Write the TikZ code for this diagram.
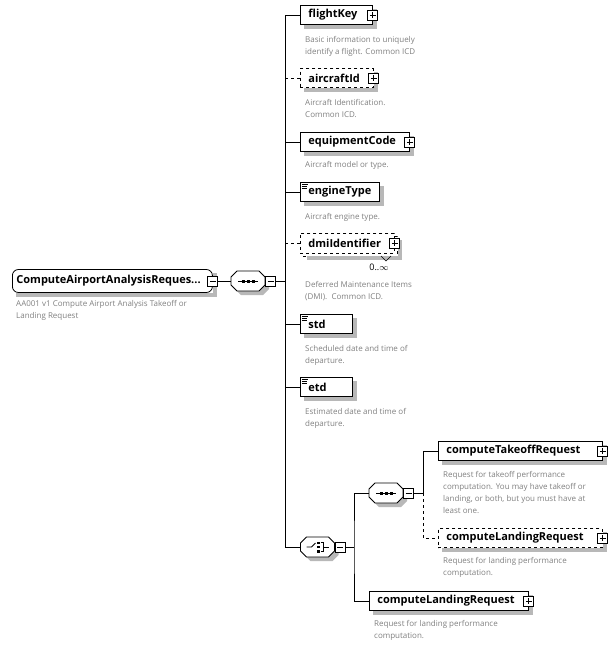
\documentclass[tikz,border=0pt]{standalone}
\usepackage{fontspec}
\setmainfont{Open Sans}

\begin{document}
\begin{tikzpicture}[
    x=1pt, y=-1pt,
    conn/.style={draw=black, line width=0.8pt},
    shadowfill/.style={fill=black!28, draw=none},
    elem/.style={rectangle, draw=black, line width=0.8pt, fill=white, anchor=west, minimum height=19pt, inner xsep=8pt, inner ysep=0pt, align=left, font=\bfseries\fontsize{11}{13}\selectfont},
    optelem/.style={elem, dashed},
    simple/.style={path picture={
        \draw[black, solid, line width=0.6pt] ([xshift=1.5pt,yshift=-2pt]path picture bounding box.north west) -- ++(6pt,0);
        \draw[black, solid, line width=0.6pt] ([xshift=1.5pt,yshift=-4pt]path picture bounding box.north west) -- ++(5pt,0);
        \draw[black, solid, line width=0.6pt] ([xshift=1.5pt,yshift=-6pt]path picture bounding box.north west) -- ++(5pt,0);}},
    desc/.style={anchor=north west, inner sep=0pt, align=left, text=black!50, font=\fontsize{8}{12}\selectfont},
    plusbox/.style={rectangle, draw=black, line width=0.7pt, fill=white, minimum size=10pt, inner sep=0pt, path picture={
        \draw[black, line width=0.7pt] ([xshift=2pt]path picture bounding box.west) -- ([xshift=-2pt]path picture bounding box.east);
        \draw[black, line width=0.7pt] ([yshift=-2pt]path picture bounding box.north) -- ([yshift=2pt]path picture bounding box.south);}},
    minusbox/.style={rectangle, draw=black, line width=0.7pt, fill=white, minimum size=10pt, inner sep=0pt, path picture={
        \draw[black, line width=0.7pt] ([xshift=2pt]path picture bounding box.west) -- ([xshift=-2pt]path picture bounding box.east);}},
    compositor/.style={rectangle, minimum width=34pt, minimum height=20pt, inner sep=0pt},
    octoline/.style={draw=black, line width=0.8pt, fill=white},
    seqsym/.style={path picture={
        \draw[black, line width=0.8pt] ([xshift=-10pt]path picture bounding box.center) -- ([xshift=10pt]path picture bounding box.center);
        \fill[black] ([xshift=-6.5pt,yshift=-1.5pt]path picture bounding box.center) rectangle ++(3pt,3pt);
        \fill[black] ([xshift=-1.5pt,yshift=-1.5pt]path picture bounding box.center) rectangle ++(3pt,3pt);
        \fill[black] ([xshift=3.5pt,yshift=-1.5pt]path picture bounding box.center) rectangle ++(3pt,3pt);}},
    choicesym/.style={path picture={
        \draw[black, line width=0.8pt] ([xshift=-11pt]path picture bounding box.center) -- ([xshift=-6pt]path picture bounding box.center) -- ([xshift=-2pt,yshift=4pt]path picture bounding box.center);
        \fill[black] ([xshift=-0.5pt,yshift=3pt]path picture bounding box.center) rectangle ++(2.5pt,2.5pt);
        \fill[black] ([xshift=-0.5pt,yshift=-1.25pt]path picture bounding box.center) rectangle ++(2.5pt,2.5pt);
        \fill[black] ([xshift=-0.5pt,yshift=-5.5pt]path picture bounding box.center) rectangle ++(2.5pt,2.5pt);
        \draw[black, line width=0.8pt] ([xshift=3pt,yshift=4.25pt]path picture bounding box.center) -- ([xshift=6pt,yshift=4.25pt]path picture bounding box.center) -- ([xshift=6pt,yshift=-4.25pt]path picture bounding box.center) -- ([xshift=3pt,yshift=-4.25pt]path picture bounding box.center);
        \draw[black, line width=0.8pt] ([xshift=6pt]path picture bounding box.center) -- ([xshift=11pt]path picture bounding box.center);}}
]
\useasboundingbox (0,0) rectangle (613,646);

% Octagon shadows, under the compositors
\foreach \cx/\cy in {252/285, 321.5/551, 390/497}
    \fill[shadowfill] (\cx,\cy) ++(-17,-4) -- ++(6,-6) -- ++(22,0) -- ++(6,6) -- ++(0,8) -- ++(-6,6) -- ++(-22,0) -- ++(-6,-6) -- cycle;

% Element boxes
\node[elem, rounded corners=6pt, minimum height=23pt, inner xsep=4pt, text width=192pt] (root) at (12,281) {ComputeAirportAnalysisReques...};
\node[elem, text width=56pt] (flightKey) at (300,15) {flightKey};
\node[optelem, text width=57pt] (aircraftId) at (300,78) {aircraftId};
\node[elem, text width=93pt] (equipmentCode) at (300,142) {equipmentCode};
\node[elem, simple, text width=63pt] (engineType) at (300,192) {engineType};
\node[optelem, minimum width=94pt, minimum height=20pt] (dmiBack) at (303,246) {};
\node[optelem, text width=78pt, minimum height=20pt] (dmiIdentifier) at (300,243) {dmiIdentifier};
\node[elem, simple, text width=36pt] (std) at (300,324) {std};
\node[elem, simple, text width=36pt] (etd) at (300,387) {etd};
\node[elem, text width=148pt] (takeoffReq) at (438,451) {computeTakeoffRequest};
\node[optelem, text width=148pt] (landingOpt) at (438,538) {computeLandingRequest};
\node[elem, text width=143pt] (landingReq) at (369,601) {computeLandingRequest};

% Shadows: right and bottom strips of each box
\foreach \n in {root,flightKey,aircraftId,equipmentCode,engineType,dmiBack,std,etd,takeoffReq,landingOpt,landingReq} {
    \fill[shadowfill] ([yshift=-4pt]\n.north east) rectangle ([xshift=4pt,yshift=-4pt]\n.south east);
    \fill[shadowfill] ([xshift=4pt]\n.south west) rectangle ([yshift=-4pt]\n.south east);
}

% Root element and top sequence
\node[minusbox] (rootMinus) at (root.east) {};
\node[desc] (rootDesc) at (16,300.5) {AA001 v1 Compute Airport Analysis Takeoff or\\Landing Request};
\node[compositor] (seqMain) at (248,281) {};
\filldraw[octoline, seqsym] (seqMain.center) ++(-17,-4) -- ++(6,-6) -- ++(22,0) -- ++(6,6) -- ++(0,8) -- ++(-6,6) -- ++(-22,0) -- ++(-6,-6) -- cycle;
\node[minusbox, anchor=west] (seqMainMinus) at (seqMain.east) {};
\coordinate (busMain) at (285,281);
\draw[conn] (rootMinus) -- (seqMain);
\draw[conn] (seqMainMinus.east) -- (busMain);

% Children of the sequence
\node[plusbox] (flightKeyPlus) at (flightKey.east) {};
\node[desc] (flightKeyDesc) at (305,36) {Basic information to uniquely\\identify a flight. Common ICD};

\node[plusbox] (aircraftIdPlus) at (aircraftId.east) {};
\node[desc] (aircraftIdDesc) at (305,99) {Aircraft Identification.\\Common ICD.};

\node[plusbox] (equipmentCodePlus) at (equipmentCode.east) {};
\node[desc] (equipmentCodeDesc) at (305,161) {Aircraft model or type.};

\node[desc] (engineTypeDesc) at (305,213) {Aircraft engine type.};

\node[plusbox] (dmiIdentifierPlus) at (dmiIdentifier.east) {};
\draw[line width=0.6pt] (381,256) -- (386,261) -- (391,256);
\node[inner sep=0pt, font=\fontsize{9}{11}\selectfont] (dmiOccurs) at (379,267) {0..$\infty$};
\node[desc] (dmiIdentifierDesc) at (305,281) {Deferred Maintenance Items\\(DMI).\ \ Common ICD.};

\node[desc] (stdDesc) at (305,345) {Scheduled date and time of\\departure.};
\node[desc] (etdDesc) at (305,408) {Estimated date and time of\\departure.};

\node[compositor] (choice) at (317.5,547) {};
\filldraw[octoline, choicesym] (choice.center) ++(-17,-4) -- ++(6,-6) -- ++(22,0) -- ++(6,6) -- ++(0,8) -- ++(-6,6) -- ++(-22,0) -- ++(-6,-6) -- cycle;
\node[minusbox, anchor=west] (choiceMinus) at (choice.east) {};

\draw[conn] (busMain |- flightKey.west) -- (busMain |- choice.west);
\draw[conn] (busMain |- flightKey.west) -- (flightKey.west);
\draw[conn, dashed] (busMain |- aircraftId.west) -- (aircraftId.west);
\draw[conn] (busMain |- equipmentCode.west) -- (equipmentCode.west);
\draw[conn] (busMain |- engineType.west) -- (engineType.west);
\draw[conn, dashed] (busMain |- dmiIdentifier.west) -- (dmiIdentifier.west);
\draw[conn] (busMain |- std.west) -- (std.west);
\draw[conn] (busMain |- etd.west) -- (etd.west);
\draw[conn] (busMain |- choice.west) -- (choice.west);

% Choice: sequence or landing request
\coordinate (busChoice) at (354,547);
\draw[conn] (choiceMinus.east) -- (busChoice);
\node[compositor] (seqTakeoff) at (386,493) {};
\filldraw[octoline, seqsym] (seqTakeoff.center) ++(-17,-4) -- ++(6,-6) -- ++(22,0) -- ++(6,6) -- ++(0,8) -- ++(-6,6) -- ++(-22,0) -- ++(-6,-6) -- cycle;
\node[minusbox, anchor=west] (seqTakeoffMinus) at (seqTakeoff.east) {};
\node[plusbox] (landingReqPlus) at (landingReq.east) {};
\node[desc] (landingReqDesc) at (374,620) {Request for landing performance\\computation.};
\draw[conn] (seqTakeoff.west) -| (busChoice) |- (landingReq.west);

\coordinate (busSeq) at (423,493);
\node[plusbox] (takeoffReqPlus) at (takeoffReq.east) {};
\node[desc] (takeoffReqDesc) at (443,471) {Request for takeoff performance\\computation. You may have takeoff or\\landing, or both, but you must have at\\least one.};
\node[plusbox] (landingOptPlus) at (landingOpt.east) {};
\node[desc] (landingOptDesc) at (443,557) {Request for landing performance\\computation.};
\draw[conn] (seqTakeoffMinus.east) -- (busSeq) |- (takeoffReq.west);
\draw[conn, dashed] (busSeq) |- (landingOpt.west);

\end{tikzpicture}
\end{document}
